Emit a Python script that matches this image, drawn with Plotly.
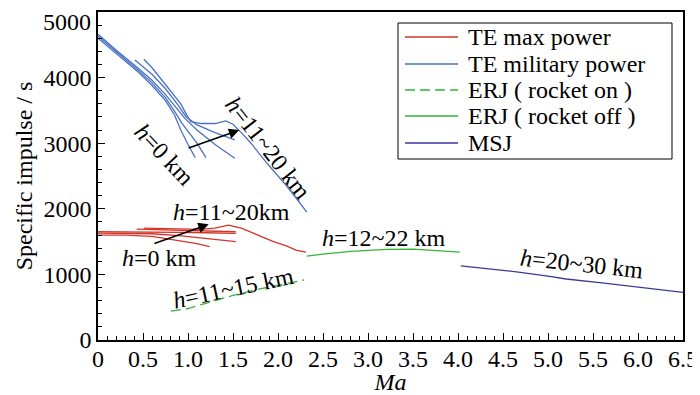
import plotly.graph_objects as go

FONT = "Liberation Serif"

# ---------------- data ----------------
# TE max power (several altitudes, h = 0 ... 11~20 km)
TE_MAX_X = [
    [0, 0.3, 0.6, 0.9, 1.1, 1.24],
    [0, 0.3, 0.6, 0.9, 1.2, 1.53],
    [0, 0.3, 0.6, 0.9, 1.2, 1.53],
    [0.43, 0.6, 0.9, 1.2, 1.53],
    [0.51, 0.8, 1.0, 1.14, 1.3, 1.45, 1.6, 1.77, 1.95, 2.1, 2.2, 2.31],
]
TE_MAX_Y = [
    [1600, 1600, 1580, 1520, 1470, 1425],
    [1630, 1630, 1620, 1590, 1550, 1500],
    [1650, 1650, 1645, 1640, 1635, 1625],
    [1690, 1685, 1675, 1665, 1650],
    [1705, 1700, 1690, 1685, 1705, 1750, 1700, 1600, 1500, 1430, 1370, 1340],
]

# TE military power
TE_MIL_X = [
    [0, 0.2, 0.45, 0.6, 0.75, 0.85, 0.92, 1.0, 1.08],
    [0, 0.2, 0.45, 0.6, 0.75, 0.85, 0.93, 1.0, 1.1, 1.2],
    [0, 0.2, 0.45, 0.6, 0.75, 0.87, 0.97, 1.1, 1.3, 1.52],
    [0.41, 0.5, 0.6, 0.75, 0.88, 0.98, 1.1, 1.3, 1.52],
    [0.51, 0.6, 0.74, 0.85, 0.92, 0.99, 1.03, 1.15, 1.3, 1.42, 1.5, 1.6, 1.7, 1.88, 2.07, 2.22, 2.32],
]
TE_MIL_Y = [
    [4600, 4370, 4080, 3880, 3650, 3430, 3200, 2980, 2780],
    [4630, 4400, 4110, 3920, 3690, 3490, 3310, 3180, 3000, 2780],
    [4660, 4420, 4140, 3960, 3740, 3540, 3370, 3200, 2980, 2770],
    [4270, 4170, 4050, 3830, 3600, 3400, 3280, 3160, 3050],
    [4280, 4150, 3910, 3720, 3600, 3420, 3330, 3300, 3300, 3340, 3290, 3150, 3000, 2690, 2390, 2130, 1950],
]

# ERJ (rocket on), h = 11~15 km
ERJ_ON_X = [0.81, 1.0, 1.2, 1.5, 1.8, 2.1, 2.29]
ERJ_ON_Y = [440, 480, 560, 680, 780, 860, 915]

# ERJ (rocket off), h = 12~22 km
ERJ_OFF_X = [2.32, 2.5, 2.81, 3.21, 3.5, 3.73, 4.02]
ERJ_OFF_Y = [1280, 1310, 1350, 1380, 1385, 1365, 1340]

# MSJ, h = 20~30 km
MSJ_X = [4.03, 4.3, 4.65, 5.0, 5.2, 5.6, 5.93, 6.2, 6.5]
MSJ_Y = [1130, 1090, 1040, 975, 930, 870, 815, 780, 725]

X_TICKS = [0, 0.5, 1.0, 1.5, 2.0, 2.5, 3.0, 3.5, 4.0, 4.5, 5.0, 5.5, 6.0, 6.5]
X_TICKTEXT = ["0", "0.5", "1.0", "1.5", "2.0", "2.5", "3.0", "3.5", "4.0", "4.5",
              "5.0", "5.5", "6.0", "6.5"]
Y_TICKS = [0, 1000, 2000, 3000, 4000, 5000]
Y_TICKTEXT = ["0", "1000", "2000", "3000", "4000", "5000"]

LEGEND_NAMES = ["TE max power", "TE military power", "ERJ ( rocket on )",
                "ERJ ( rocket off )", "MSJ"]

# altitude labels: text, x, y, angle
LABELS = [
    ("<i>h</i>=0 km", 0.74, 2820, 47),
    ("<i>h</i>=11~20 km", 1.89, 2930, 52),
    ("<i>h</i>=11~20km", 1.48, 1950, 0),
    ("<i>h</i>=0 km", 0.68, 1250, 0),
    ("<i>h</i>=11~15 km", 1.51, 795, -12),
    ("<i>h</i>=12~22 km", 3.18, 1555, 0),
    ("<i>h</i>=20~30 km", 5.38, 1160, 6),
]
# arrows: tail (x, y) -> head (x, y)
ARROWS = [
    (0.99, 2920, 1.57, 3200),
    (0.61, 1463, 1.23, 1764),
]

# ---------------- styles ----------------
RED = "#d4352a"
BLUE = "#4a72c4"
GREEN = "#35b335"
PURPLE = "#3a3a98"
COLORS = [RED, BLUE, GREEN, GREEN, PURPLE]
DASHES = ["solid", "solid", "10px,5px", "solid", "solid"]
LW = 1.3
FS = 24


def join(xs_list, ys_list):
    xo, yo = [], []
    for xs, ys in zip(xs_list, ys_list):
        xo += list(xs) + [None]
        yo += list(ys) + [None]
    return xo, yo


fig = go.Figure()
series = [
    join(TE_MAX_X, TE_MAX_Y),
    join(TE_MIL_X, TE_MIL_Y),
    (ERJ_ON_X, ERJ_ON_Y),
    (ERJ_OFF_X, ERJ_OFF_Y),
    (MSJ_X, MSJ_Y),
]
for (xs, ys), name, c, d in zip(series, LEGEND_NAMES, COLORS, DASHES):
    fig.add_trace(go.Scatter(x=xs, y=ys, mode="lines", name=name,
                             line=dict(color=c, width=LW, dash=d),
                             connectgaps=False, showlegend=False))

# plot area in page pixels (page has an 8px body margin)
OFF = 8
L, R, T, B = 98, 683, 12, 340
W, H = 700 - OFF, 395 - OFF


def px(xp):
    return (xp - L) / (R - L)


def py(yp):
    return (B - yp) / (B - T)


annotations = []
for text, x, y, ang in LABELS:
    annotations.append(dict(x=x, y=y, xref="x", yref="y", text=text, showarrow=False,
                            textangle=ang, font=dict(family=FONT, size=FS, color="black"),
                            xanchor="center", yanchor="middle"))
for tx, ty, hx, hy in ARROWS:
    annotations.append(dict(x=hx, y=hy, ax=tx, ay=ty, xref="x", yref="y",
                            axref="x", ayref="y", text="", showarrow=True,
                            arrowhead=2, arrowsize=1.3, arrowwidth=1.6,
                            arrowcolor="black"))

# top y tick label drawn as an annotation so it stays inside the page
tick_text_shown = Y_TICKTEXT[:-1] + [""]
annotations.append(dict(x=px(92), y=py(OFF), xref="paper", yref="paper",
                        text=Y_TICKTEXT[-1], showarrow=False, xanchor="right",
                        yanchor="top", borderpad=0,
                        font=dict(family=FONT, size=FS, color="black")))

# manual legend
shapes = []
box = (398, 23, 672, 159)
shapes.append(dict(type="rect", xref="paper", yref="paper",
                   x0=px(box[0]), x1=px(box[2]), y0=py(box[3]), y1=py(box[1]),
                   line=dict(color="black", width=1), fillcolor="white", layer="above"))
row_y = [37, 64, 90, 116, 143]
for name, c, d, ry in zip(LEGEND_NAMES, COLORS, DASHES, row_y):
    shapes.append(dict(type="line", xref="paper", yref="paper",
                       x0=px(405), x1=px(458), y0=py(ry), y1=py(ry),
                       line=dict(color=c, width=LW, dash=d), layer="above"))
    annotations.append(dict(x=px(466), y=py(ry), xref="paper", yref="paper",
                            text=name, showarrow=False, xanchor="left", yanchor="middle",
                            font=dict(family=FONT, size=FS, color="black")))

axis_common = dict(showline=True, linecolor="black", linewidth=1.5, mirror=True,
                   showgrid=False, zeroline=False, ticks="inside", ticklen=7,
                   tickwidth=1.2, tickcolor="black", automargin=False,
                   ticklabeloverflow="allow",
                   tickfont=dict(family=FONT, size=FS, color="black"))

fig.update_layout(
    width=W, height=H,
    margin=dict(l=L - OFF, r=W - (R - OFF), t=T - OFF, b=H - (B - OFF), autoexpand=False),
    plot_bgcolor="white", paper_bgcolor="white",
    showlegend=False,
    font=dict(family=FONT, size=FS, color="black"),
    annotations=annotations, shapes=shapes,
    xaxis=dict(range=[0, 6.5], tickvals=X_TICKS, ticktext=X_TICKTEXT,
               ticklabelstandoff=-4,
               title=dict(text="<i>Ma</i>", standoff=4,
                          font=dict(family=FONT, size=FS, color="black")),
               minor=dict(ticks="inside", ticklen=4, dtick=0.1, tickcolor="black",
                          tickwidth=1, showgrid=False),
               **axis_common),
    yaxis=dict(range=[0, 5000], tickvals=Y_TICKS, ticktext=tick_text_shown,
               title=dict(text="Specific impulse / s", standoff=4,
                          font=dict(family=FONT, size=FS, color="black")),
               minor=dict(ticks="inside", ticklen=4, dtick=200, tickcolor="black",
                          tickwidth=1, showgrid=False),
               **axis_common),
)

fig.write_html("out.html")
